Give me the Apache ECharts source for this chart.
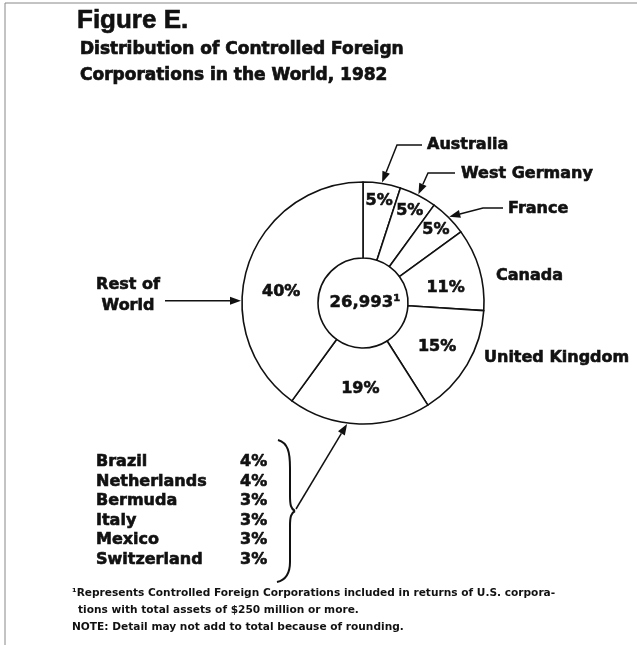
<!DOCTYPE html>
<html>
<head>
<meta charset="utf-8">
<script src="https://cdn.jsdelivr.net/npm/echarts@6/dist/echarts.min.js"></script>
<style>
html, body { margin: 0; padding: 0; background: #fff; }
#main { width: 637px; height: 645px; }
</style>
</head>
<body>
<div id="main"></div>
<script>
// slices, clockwise from 12 o'clock
var sliceNames = ['Australia', 'West Germany', 'France', 'Canada', 'United Kingdom', 'Other', 'Rest of World'];
var sliceValues = [5, 5, 5, 11, 15, 19, 40];
// breakdown of the 19% slice
var otherNames = ['Brazil', 'Netherlands', 'Bermuda', 'Italy', 'Mexico', 'Switzerland'];
var otherValues = [4, 4, 3, 3, 3, 3];
var totalCFC = '26,993';

var cx = 363, cy = 303, R = 121, r0 = 45;
var BOLD = 'DejaVu Sans';
var NARROW = 'Liberation Sans';

var myChart = echarts.init(document.getElementById('main'));

var total = 0;
sliceValues.forEach(function (v) { total += v; });
// mid angle of slice i, degrees clockwise from top
function midAngle(i)
{
    var s = 0;
    for (var k = 0; k < i; k++) s += sliceValues[k];
    return (s + sliceValues[i] / 2) / total * 360;
}
function pt(deg, rad)
{
    var a = (90 - deg) * Math.PI / 180;
    return [cx + rad * Math.cos(a), cy - rad * Math.sin(a)];
}

// arrow: polyline ending with a filled head at the last point
function arrow(points)
{
    var n = points.length;
    var p = points[n - 1], q = points[n - 2];
    var dx = p[0] - q[0], dy = p[1] - q[1];
    var len = Math.sqrt(dx * dx + dy * dy);
    var ux = dx / len, uy = dy / len;
    var bx = p[0] - ux * 11, by = p[1] - uy * 11;
    var linePts = points.slice(0, n - 1).concat([[bx, by]]);
    return [
        {
            type : 'polyline',
            shape : { points : linePts },
            style : { stroke : '#111', lineWidth : 1.5, fill : null },
            silent : true
        },
        {
            type : 'polygon',
            shape : { points : [p, [bx - uy * 4, by + ux * 4], [bx + uy * 4, by - ux * 4]] },
            style : { fill : '#111' },
            silent : true
        }
    ];
}

function txt(x, y, s, size, font, align, heavy)
{
    var st = {
        text : s,
        font : 'bold ' + size + 'px "' + font + '"',
        fill : '#111',
        align : align || 'left',
        verticalAlign : 'middle'
    };
    if (heavy)
    {
        st.stroke = '#111';
        st.lineWidth = heavy;
    }
    return { type : 'text', x : x, y : y, style : st, silent : true };
}

var graphics = [];
// frame (top and left edges only)
graphics.push({ type : 'line', shape : { x1 : 5, y1 : 3, x2 : 637, y2 : 3 }, style : { stroke : '#888', lineWidth : 1 }, silent : true });
graphics.push({ type : 'line', shape : { x1 : 5, y1 : 3, x2 : 5, y2 : 645 }, style : { stroke : '#888', lineWidth : 1 }, silent : true });

// titles
graphics.push(txt(77, 21, 'Figure E.', 26, NARROW, 'left', 0.6));
graphics.push(txt(80, 50, 'Distribution of Controlled Foreign', 17, BOLD, 'left', 0.7));
graphics.push(txt(80, 76, 'Corporations in the World, 1982', 17, BOLD, 'left', 0.7));

// center total
graphics.push(txt(cx + 2, cy, totalCFC + '\u00b9', 16.5, BOLD, 'center', 0.5));

// outside labels with arrows
var tipA = pt(midAngle(0), R + 1);
graphics = graphics.concat(arrow([[422, 145], [397, 145], tipA]));
graphics.push(txt(427, 145, sliceNames[0], 16, BOLD, 'left', 0.6));

var tipW = pt(midAngle(1), R + 1);
graphics = graphics.concat(arrow([[455, 173], [428, 173], tipW]));
graphics.push(txt(461, 174, sliceNames[1], 16, BOLD, 'left', 0.6));

var tipF = pt(midAngle(2), R + 1);
graphics = graphics.concat(arrow([[503, 208], [483, 208], tipF]));
graphics.push(txt(508, 209, sliceNames[2], 16, BOLD, 'left', 0.6));

graphics.push(txt(496, 276, sliceNames[3], 16, BOLD, 'left', 0.6));
graphics.push(txt(484, 358, sliceNames[4], 16, BOLD, 'left', 0.6));

var tipR = pt(271, R + 1);
graphics = graphics.concat(arrow([[165, tipR[1]], tipR]));
graphics.push(txt(128, 285, 'Rest of', 16, BOLD, 'center', 0.6));
graphics.push(txt(128, 306, 'World', 16, BOLD, 'center', 0.6));

// breakdown list
otherNames.forEach(function (name, i)
{
    var y = 462 + i * 19.5;
    graphics.push(txt(96, y, name, 16, BOLD, 'left', 0.6));
    graphics.push(txt(240, y, otherValues[i] + '%', 16, BOLD, 'left', 0.6));
});

// curly brace (bezier pieces) and arrow to the 19% slice
var braceStyle = { stroke : '#111', lineWidth : 2, fill : null };
var bracePieces = [
    { type : 'bezierCurve', shape : { x1 : 278, y1 : 440, x2 : 290, y2 : 468, cpx1 : 288, cpy1 : 443, cpx2 : 290, cpy2 : 452 } },
    { type : 'line', shape : { x1 : 290, y1 : 468, x2 : 290, y2 : 496 } },
    { type : 'bezierCurve', shape : { x1 : 290, y1 : 496, x2 : 295, y2 : 511, cpx1 : 290, cpy1 : 505, cpx2 : 291, cpy2 : 509 } },
    { type : 'bezierCurve', shape : { x1 : 295, y1 : 511, x2 : 290, y2 : 526, cpx1 : 291, cpy1 : 513, cpx2 : 290, cpy2 : 517 } },
    { type : 'line', shape : { x1 : 290, y1 : 526, x2 : 290, y2 : 562 } },
    { type : 'bezierCurve', shape : { x1 : 290, y1 : 562, x2 : 277, y2 : 582, cpx1 : 290, cpy1 : 574, cpx2 : 286, cpy2 : 580 } }
];
bracePieces.forEach(function (b)
{
    b.style = braceStyle;
    b.silent = true;
    graphics.push(b);
});
var tipB = pt(187.5, R + 1);
graphics = graphics.concat(arrow([[296, 509], tipB]));

// footnotes
graphics.push(txt(72, 593, '\u00b9Represents Controlled Foreign Corporations included in returns of U.S. corpora-', 10.6, BOLD, 'left', 0));
graphics.push(txt(78, 610, 'tions with total assets of $250 million or more.', 10.6, BOLD, 'left', 0));
graphics.push(txt(72, 627, 'NOTE: Detail may not add to total because of rounding.', 10.6, BOLD, 'left', 0));

// small nudges so the wide slices' labels sit where the original has them
var labelNudge = { 'Canada' : [0, 9], 'Rest of World' : [0, 15] };

var mainData = sliceNames.map(function (n, i)
{
    return { name : n, value : sliceValues[i], label : { show : i >= 3, offset : labelNudge[n] || [0, 0] } };
});
var smallData = sliceNames.map(function (n, i)
{
    return { name : n, value : sliceValues[i], label : { show : i < 3 } };
});

var labelStyle =
{
    position : 'inside',
    formatter : '{c}%',
    color : '#111',
    fontFamily : BOLD,
    fontWeight : 'bold',
    fontSize : 16,
    textBorderColor : '#111',
    textBorderWidth : 0.6
};

var option =
{
    backgroundColor : '#fff',
    animation : false,
    series : [
        {
            type : 'pie',
            center : [cx, cy],
            radius : [r0, R],
            startAngle : 90,
            clockwise : true,
            avoidLabelOverlap : false,
            silent : true,
            itemStyle :
            {
                color : '#fff',
                borderColor : '#111',
                borderWidth : 1.6
            },
            label : labelStyle,
            labelLine : { show : false },
            data : mainData
        },
        {
            // transparent ring only used to place the narrow-slice labels further out
            type : 'pie',
            center : [cx, cy],
            radius : [r0, 155],
            startAngle : 90,
            clockwise : true,
            avoidLabelOverlap : false,
            silent : true,
            z : 3,
            itemStyle :
            {
                color : 'rgba(0,0,0,0)',
                borderWidth : 0
            },
            label : labelStyle,
            labelLine : { show : false },
            data : smallData
        }
    ],
    graphic : graphics
};

myChart.setOption(option);
</script>
</body>
</html>
